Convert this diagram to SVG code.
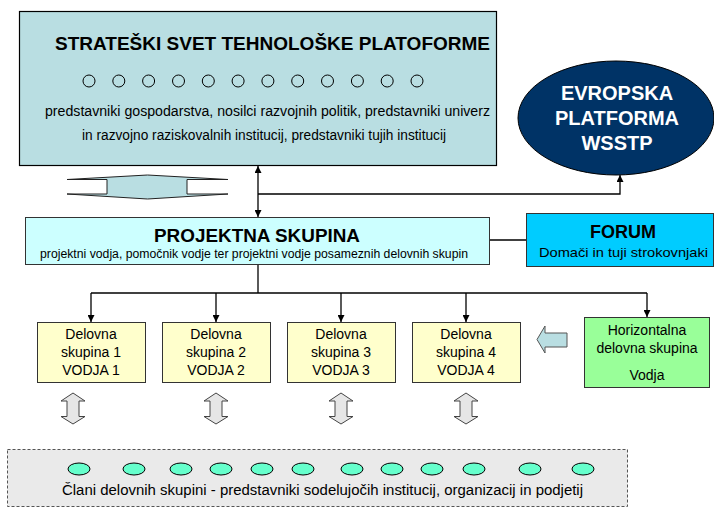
<svg xmlns="http://www.w3.org/2000/svg" width="714" height="509" viewBox="0 0 714 509">
<defs>
<marker id="ah" viewBox="0 0 10 10" refX="10" refY="5" markerWidth="7" markerHeight="7" markerUnits="userSpaceOnUse" orient="auto-start-reverse">
<path d="M0,0 L10,5 L0,10 Z" fill="#000"/>
</marker>
<style>
text{font-family:"Liberation Sans",Arial,sans-serif;fill:#000}
.b{font-weight:bold}
.c{text-anchor:middle}
.con{fill:none;stroke:#000;stroke-width:1.3}
.dg{fill:#ffffcc;stroke:#333;stroke-width:1}
.va{fill:#e6e6e6;stroke:#444;stroke-width:1}
.dot{fill:none;stroke:#000;stroke-width:1}
.gd{fill:#66ffcc;stroke:#000;stroke-width:1}
</style>
</defs>
<rect width="714" height="509" fill="#fff"/>

<g id="strateski-svet">
<rect x="19.5" y="11.5" width="477" height="154" fill="#b9dee2" stroke="#000" stroke-width="1.2"/>
<text class="b" x="55" y="50" font-size="18.5" textLength="435" lengthAdjust="spacingAndGlyphs">STRATEŠKI SVET TEHNOLOŠKE PLATOFORME</text>
<circle class="dot" cx="89" cy="81" r="6"/>
<circle class="dot" cx="118.8" cy="81" r="6"/>
<circle class="dot" cx="148.6" cy="81" r="6"/>
<circle class="dot" cx="178.5" cy="81" r="6"/>
<circle class="dot" cx="208.3" cy="81" r="6"/>
<circle class="dot" cx="238.1" cy="81" r="6"/>
<circle class="dot" cx="267.9" cy="81" r="6"/>
<circle class="dot" cx="297.7" cy="81" r="6"/>
<circle class="dot" cx="327.5" cy="81" r="6"/>
<circle class="dot" cx="357.4" cy="81" r="6"/>
<circle class="dot" cx="387.2" cy="81" r="6"/>
<circle class="dot" cx="417" cy="81" r="6"/>
<text x="45" y="116" font-size="14" textLength="445" lengthAdjust="spacingAndGlyphs">predstavniki gospodarstva, nosilci razvojnih politik, predstavniki univerz</text>
<text x="82" y="140" font-size="14" textLength="364" lengthAdjust="spacingAndGlyphs">in razvojno raziskovalnih institucij, predstavniki tujih institucij</text>
</g>

<g id="evropska-platforma">
<ellipse cx="616" cy="118" rx="98" ry="57" fill="#003366" stroke="#000" stroke-width="1"/>
<text class="b c" x="617" y="100" font-size="20" style="fill:#fff">EVROPSKA</text>
<text class="b c" x="617" y="125" font-size="20" style="fill:#fff">PLATFORMA</text>
<text class="b c" x="617" y="150" font-size="20" style="fill:#fff">WSSTP</text>
</g>

<g id="izmenjava-arrow">
<path d="M67,179.5 L147.5,175 L228,179.5 L187,179.5 L187,194 L228,194 L147.5,199 L67,194 L107,194 L107,179.5 Z" fill="#b9dee2" stroke="#222" stroke-width="1"/>
</g>

<g id="projektna-skupina">
<rect x="25.5" y="217.5" width="464" height="47" fill="#ccffff" stroke="#333" stroke-width="1"/>
<text class="b" x="154" y="242" font-size="18" textLength="206" lengthAdjust="spacingAndGlyphs">PROJEKTNA SKUPINA</text>
<text x="40" y="258" font-size="12.5" textLength="428" lengthAdjust="spacingAndGlyphs">projektni vodja, pomočnik vodje ter projektni vodje posameznih delovnih skupin</text>
</g>

<g id="forum">
<rect x="526.5" y="213.5" width="187" height="53" fill="#00ccff" stroke="#333" stroke-width="1"/>
<text class="b c" x="623" y="238" font-size="18">FORUM</text>
<text x="539" y="257" font-size="13.5" textLength="169" lengthAdjust="spacingAndGlyphs">Domači in tuji strokovnjaki</text>
</g>

<g id="delovna-skupina-1">
<rect class="dg" x="37.5" y="322.5" width="108" height="60"/>
<text class="c" x="91" y="339" font-size="14">Delovna</text>
<text class="c" x="91" y="357" font-size="14">skupina 1</text>
<text class="c" x="91" y="375" font-size="14">VODJA 1</text>
</g>
<g id="delovna-skupina-2">
<rect class="dg" x="162.5" y="322.5" width="108" height="60"/>
<text class="c" x="216" y="339" font-size="14">Delovna</text>
<text class="c" x="216" y="357" font-size="14">skupina 2</text>
<text class="c" x="216" y="375" font-size="14">VODJA 2</text>
</g>
<g id="delovna-skupina-3">
<rect class="dg" x="287.5" y="322.5" width="108" height="60"/>
<text class="c" x="341" y="339" font-size="14">Delovna</text>
<text class="c" x="341" y="357" font-size="14">skupina 3</text>
<text class="c" x="341" y="375" font-size="14">VODJA 3</text>
</g>
<g id="delovna-skupina-4">
<rect class="dg" x="412.5" y="322.5" width="108" height="60"/>
<text class="c" x="466" y="339" font-size="14">Delovna</text>
<text class="c" x="466" y="357" font-size="14">skupina 4</text>
<text class="c" x="466" y="375" font-size="14">VODJA 4</text>
</g>

<g id="horizontalna-skupina">
<rect x="584.5" y="317.5" width="125" height="70" fill="#99ff99" stroke="#333" stroke-width="1"/>
<text class="c" x="647" y="335" font-size="14">Horizontalna</text>
<text class="c" x="647" y="353" font-size="14">delovna skupina</text>
<text class="c" x="647" y="380" font-size="14">Vodja</text>
</g>

<g id="horizontal-arrow">
<path d="M537,339.5 L545,326 L545,333 L567,333 L567,347 L545,347 L545,353 Z" fill="#b9dee2" stroke="#555" stroke-width="1"/>
</g>

<g id="vertical-arrows">
<path class="va" d="M73,393 L85,401 L79,401 L79,416.5 L85,416.5 L73,424 L61,416.5 L67,416.5 L67,401 L61,401 Z"/>
<path class="va" d="M216,393 L228,401 L222,401 L222,416.5 L228,416.5 L216,424 L204,416.5 L210,416.5 L210,401 L204,401 Z"/>
<path class="va" d="M341,393 L353,401 L347,401 L347,416.5 L353,416.5 L341,424 L329,416.5 L335,416.5 L335,401 L329,401 Z"/>
<path class="va" d="M466,393 L478,401 L472,401 L472,416.5 L478,416.5 L466,424 L454,416.5 L460,416.5 L460,401 L454,401 Z"/>
</g>

<g id="clani">
<rect x="7.5" y="449.5" width="620" height="57" fill="#eaeaea" stroke="#555" stroke-width="1" stroke-dasharray="3,2"/>
<ellipse class="gd" cx="79" cy="469" rx="11" ry="6"/>
<ellipse class="gd" cx="134" cy="469" rx="11" ry="6"/>
<ellipse class="gd" cx="181" cy="469" rx="11" ry="6"/>
<ellipse class="gd" cx="221" cy="469" rx="11" ry="6"/>
<ellipse class="gd" cx="262" cy="469" rx="11" ry="6"/>
<ellipse class="gd" cx="303" cy="469" rx="11" ry="6"/>
<ellipse class="gd" cx="352" cy="469" rx="11" ry="6"/>
<ellipse class="gd" cx="392" cy="469" rx="11" ry="6"/>
<ellipse class="gd" cx="432" cy="469" rx="11" ry="6"/>
<ellipse class="gd" cx="474" cy="469" rx="11" ry="6"/>
<ellipse class="gd" cx="530" cy="469" rx="11" ry="6"/>
<ellipse class="gd" cx="583" cy="469" rx="11" ry="6"/>
<text x="62" y="495" font-size="14" textLength="521" lengthAdjust="spacingAndGlyphs">Člani delovnih skupini - predstavniki sodelujočih institucij, organizacij in podjetij</text>
</g>

<g id="connectors">
<line class="con" x1="258" y1="166" x2="258" y2="217" marker-start="url(#ah)" marker-end="url(#ah)"/>
<polyline class="con" points="258,194 620,194 620,175" marker-end="url(#ah)"/>
<line class="con" x1="490" y1="240" x2="526" y2="240"/>
<line class="con" x1="258" y1="265" x2="258" y2="293" stroke-width="2.2"/>
<line class="con" x1="91" y1="293" x2="647" y2="293"/>
<line class="con" x1="91" y1="293" x2="91" y2="322" marker-end="url(#ah)"/>
<line class="con" x1="216" y1="293" x2="216" y2="322" marker-end="url(#ah)"/>
<line class="con" x1="341" y1="293" x2="341" y2="322" marker-end="url(#ah)"/>
<line class="con" x1="466" y1="293" x2="466" y2="322" marker-end="url(#ah)"/>
<line class="con" x1="647" y1="293" x2="647" y2="317" marker-end="url(#ah)"/>
</g>
</svg>
